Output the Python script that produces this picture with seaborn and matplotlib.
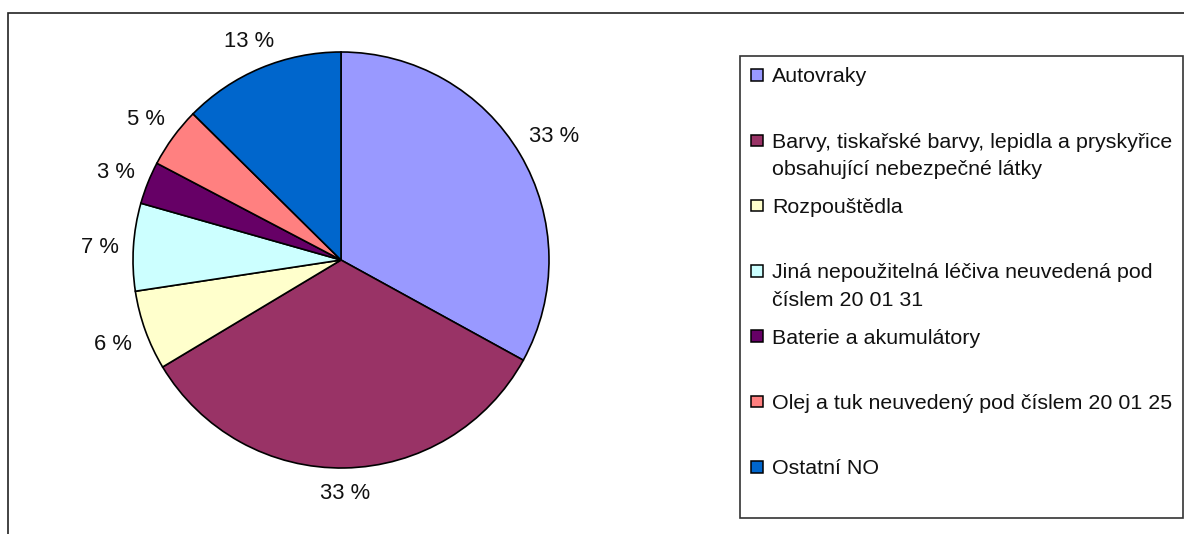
import matplotlib
matplotlib.use("Agg")
import numpy as np
import matplotlib.pyplot as plt
from matplotlib.patches import Rectangle
import seaborn as sns

sns.set_style("white")
plt.rcParams['font.family'] = ['Liberation Sans', 'DejaVu Sans']

categories = [
    "Autovraky",
    "Barvy, tiskařské barvy, lepidla a pryskyřice\nobsahující nebezpečné látky",
    "Rozpouštědla",
    "Jiná nepoužitelná léčiva neuvedená pod\nčíslem 20 01 31",
    "Baterie a akumulátory",
    "Olej a tuk neuvedený pod číslem 20 01 25",
    "Ostatní NO",
]
values = [33.0, 33.4, 6.2, 6.8, 3.3, 4.7, 12.6]
colors = ["#9999FF", "#993366", "#FFFFCC", "#CCFFFF", "#660066", "#FF8080", "#0066CC"]

W, H = 1184, 534
FS = 15.8
FS_LEG = 15.4
fig = plt.figure(figsize=(W / 100, H / 100), dpi=100)

# outer chart frame
fig.patches.append(Rectangle((8 / W, -0.05), 1.2, (H - 13) / H + 0.05,
                             transform=fig.transFigure, fill=False,
                             edgecolor="#222222", linewidth=1.2))

cx, cy, R = 341, 260, 206
half = 260
ax = fig.add_axes([(cx - half) / W, (H - cy - half) / H, 2 * half / W, 2 * half / H])
lim = half / R
ax.set_xlim(-lim, lim)
ax.set_ylim(-lim, lim)
ax.set_aspect("equal")
ax.axis("off")

wedges, texts, autotexts = ax.pie(
    values, colors=colors, startangle=90, counterclock=False, radius=1,
    autopct=lambda p: f"{p:.0f} %", pctdistance=1.17,
    wedgeprops=dict(edgecolor="black", linewidth=1.2),
    textprops=dict(fontsize=FS, color="#111111"),
)

# place data labels just outside the pie edge (Excel "outside end" style)
fig.canvas.draw()
renderer = fig.canvas.get_renderer()
gap = 14
cap_h = 0.72 * FS * 100 / 72
for w, t in zip(wedges, autotexts):
    phi = np.deg2rad((w.theta1 + w.theta2) / 2)
    bb = t.get_window_extent(renderer)
    support = bb.width / 2 * abs(np.cos(phi)) + cap_h / 2 * abs(np.sin(phi))
    d = (R + gap + support) / R
    t.set_position((d * np.cos(phi), d * np.sin(phi)))
    t.set_ha("center")
    t.set_va("center_baseline")

# legend box
lx0, ly0, lx1, ly1 = 740, 56, 1183, 518
fig.patches.append(Rectangle((lx0 / W, (H - ly1) / H), (lx1 - lx0) / W, (ly1 - ly0) / H,
                             transform=fig.transFigure, fill=True, facecolor="white",
                             edgecolor="#333333", linewidth=1.2))
first_y = 75
step = 65.3
pitch = 27.5
sq = 11.5
for i, (lab, col) in enumerate(zip(categories, colors)):
    yc = first_y + i * step
    fig.patches.append(Rectangle(((757 - sq / 2) / W, (H - yc - sq / 2) / H), sq / W, sq / H,
                                 transform=fig.transFigure, facecolor=col,
                                 edgecolor="black", linewidth=1.1))
    for j, line in enumerate(lab.split("\n")):
        fig.text(772 / W, (H - yc - 7.5 - j * pitch) / H, line, fontsize=FS_LEG,
                 va="baseline", ha="left", color="#111111")

fig.savefig("out.png", dpi=100, facecolor="white")
